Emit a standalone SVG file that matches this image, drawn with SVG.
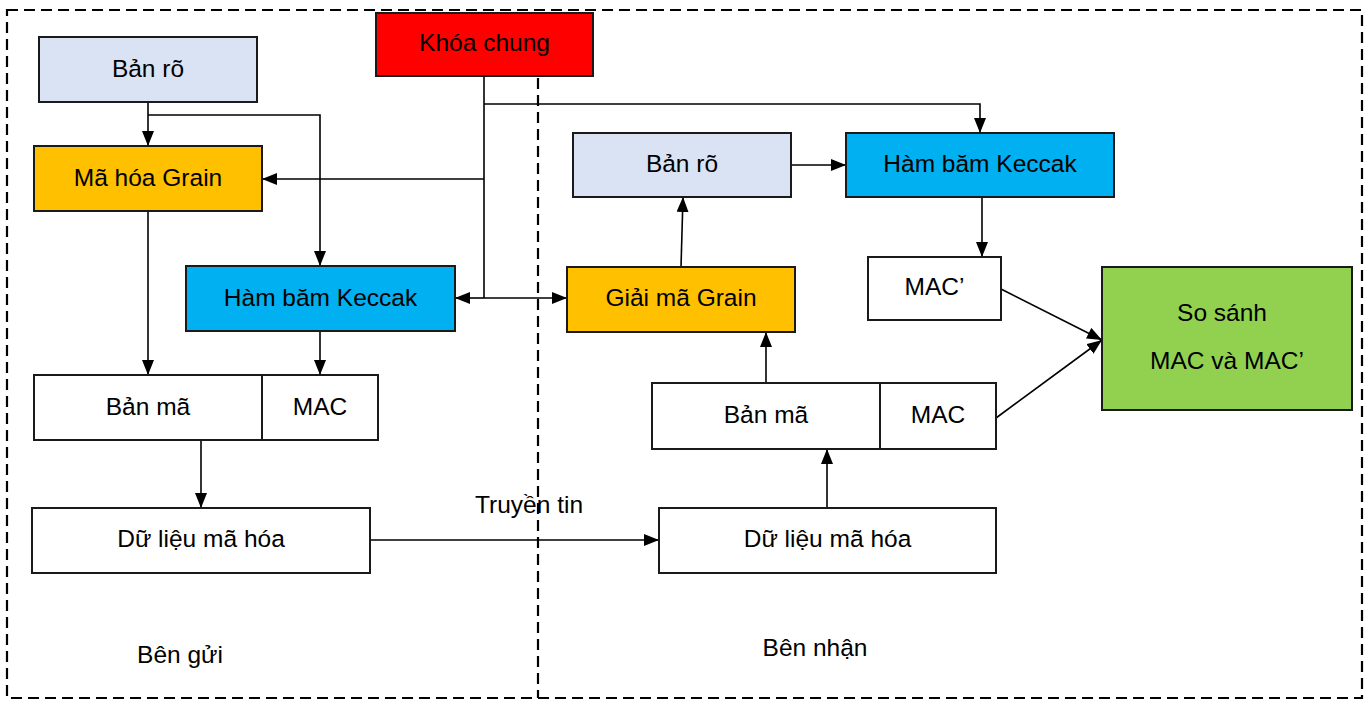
<svg xmlns="http://www.w3.org/2000/svg" width="1370" height="701" viewBox="0 0 1370 701">
<style>
.box{stroke:#1a1a1a;stroke-width:2}
.t{font-family:"Liberation Sans",Arial,sans-serif;font-size:24.5px;fill:#000;text-anchor:middle;dominant-baseline:central}
.c{stroke:#000;stroke-width:1.6;fill:none}
.dash{stroke:#000;stroke-width:2.2;fill:none;stroke-dasharray:11 6}
</style>
<defs>
<marker id="ah" viewBox="0 0 15 12" refX="15" refY="6" markerWidth="15" markerHeight="12" markerUnits="userSpaceOnUse" orient="auto-start-reverse">
<path d="M0,0 L15,6 L0,12 Z" fill="#000"/>
</marker>
</defs>
<rect x="0" y="0" width="1370" height="701" fill="#fff"/>
<g id="frame">
<rect class="dash" x="7" y="10" width="1355" height="688"/>
<line class="dash" x1="538" y1="78" x2="538" y2="698"/>
</g>
<g id="connectors">
<line class="c" x1="148" y1="102" x2="148" y2="146" marker-end="url(#ah)"/>
<polyline class="c" points="148,115 320,115 320,266" marker-end="url(#ah)"/>
<line class="c" x1="484" y1="76" x2="484" y2="298"/>
<polyline class="c" points="484,104 980,104 980,133" marker-end="url(#ah)"/>
<line class="c" x1="484" y1="179" x2="262" y2="179" marker-end="url(#ah)"/>
<line class="c" x1="484" y1="298" x2="455" y2="298" marker-end="url(#ah)"/>
<line class="c" x1="484" y1="298" x2="567" y2="298" marker-end="url(#ah)"/>
<line class="c" x1="148" y1="211" x2="148" y2="375" marker-end="url(#ah)"/>
<line class="c" x1="320" y1="331" x2="320" y2="375" marker-end="url(#ah)"/>
<line class="c" x1="201" y1="440" x2="201" y2="508" marker-end="url(#ah)"/>
<line class="c" x1="370" y1="540" x2="659" y2="540" marker-end="url(#ah)"/>
<line class="c" x1="827" y1="508" x2="827" y2="449" marker-end="url(#ah)"/>
<line class="c" x1="766" y1="383" x2="766" y2="332" marker-end="url(#ah)"/>
<line class="c" x1="681" y1="267" x2="683" y2="197" marker-end="url(#ah)"/>
<line class="c" x1="791" y1="165" x2="846" y2="165" marker-end="url(#ah)"/>
<line class="c" x1="982" y1="197" x2="982" y2="257" marker-end="url(#ah)"/>
<line class="c" x1="1001" y1="289" x2="1102" y2="340" marker-end="url(#ah)"/>
<line class="c" x1="996" y1="418" x2="1102" y2="340" marker-end="url(#ah)"/>
</g>
<g id="khoa-chung"><rect class="box" x="376" y="13" width="217" height="63" fill="#FF0000"/><text class="t" x="484.5" y="42">Khóa chung</text></g>
<g id="ban-ro-gui"><rect class="box" x="39" y="37" width="218" height="65" fill="#DAE3F3"/><text class="t" x="148" y="68">Bản rõ</text></g>
<g id="ma-hoa-grain"><rect class="box" x="34" y="146" width="228" height="65" fill="#FFC000"/><text class="t" x="148" y="177">Mã hóa Grain</text></g>
<g id="keccak-gui"><rect class="box" x="186" y="266" width="269" height="65" fill="#00B0F0"/><text class="t" x="320.5" y="297">Hàm băm Keccak</text></g>
<g id="banma-mac-gui"><rect class="box" x="34" y="375" width="344" height="65" fill="#fff"/><line class="box" x1="262" y1="375" x2="262" y2="440"/><text class="t" x="148" y="406">Bản mã</text><text class="t" x="320" y="406">MAC</text></g>
<g id="du-lieu-gui"><rect class="box" x="32" y="508" width="338" height="65" fill="#fff"/><text class="t" x="201" y="538">Dữ liệu mã hóa</text></g>
<g id="truyen-tin"><text class="t" x="529" y="504">Truyền tin</text></g>
<g id="ben-gui"><text class="t" x="180" y="654">Bên gửi</text></g>
<g id="ben-nhan"><text class="t" x="815" y="647">Bên nhận</text></g>
<g id="du-lieu-nhan"><rect class="box" x="659" y="508" width="337" height="65" fill="#fff"/><text class="t" x="827.5" y="538">Dữ liệu mã hóa</text></g>
<g id="banma-mac-nhan"><rect class="box" x="652" y="383" width="344" height="66" fill="#fff"/><line class="box" x1="880" y1="383" x2="880" y2="449"/><text class="t" x="766" y="414">Bản mã</text><text class="t" x="938" y="414">MAC</text></g>
<g id="giai-ma-grain"><rect class="box" x="567" y="267" width="228" height="65" fill="#FFC000"/><text class="t" x="681" y="297">Giải mã Grain</text></g>
<g id="ban-ro-nhan"><rect class="box" x="573" y="133" width="218" height="64" fill="#DAE3F3"/><text class="t" x="682" y="163">Bản rõ</text></g>
<g id="keccak-nhan"><rect class="box" x="846" y="133" width="268" height="64" fill="#00B0F0"/><text class="t" x="980" y="163">Hàm băm Keccak</text></g>
<g id="mac-phay"><rect class="box" x="868" y="257" width="133" height="63" fill="#fff"/><text class="t" x="934.5" y="286">MAC’</text></g>
<g id="so-sanh"><rect class="box" x="1102" y="267" width="250" height="143" fill="#92D050"/><text class="t" x="1222" y="312">So sánh</text><text class="t" x="1227" y="360">MAC và MAC’</text></g>
</svg>
